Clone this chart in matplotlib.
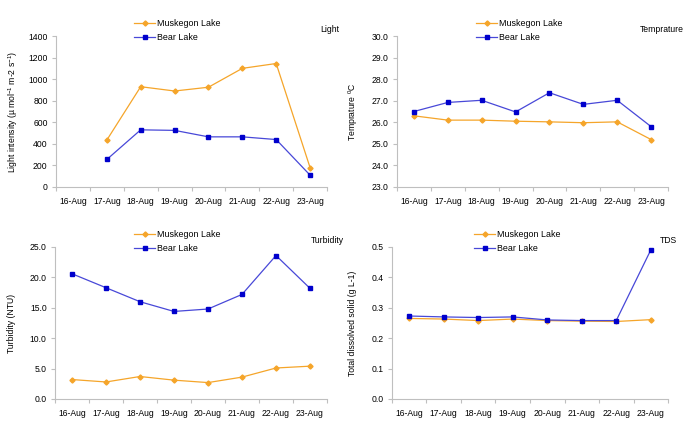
import matplotlib
matplotlib.use("Agg")
import matplotlib.pyplot as plt
import numpy as np

plt.rcParams['font.family'] = ['Liberation Sans', 'DejaVu Sans']
plt.rcParams['mathtext.fontset'] = 'custom'
plt.rcParams['mathtext.rm'] = 'Liberation Sans'
plt.rcParams['mathtext.it'] = 'Liberation Sans'

dates = ["16-Aug", "17-Aug", "18-Aug", "19-Aug", "20-Aug", "21-Aug", "22-Aug", "23-Aug"]

light_musk = [np.nan, 435, 930, 890, 925, 1100, 1145, 180]
light_bear = [np.nan, 255, 530, 525, 465, 465, 440, 110]

temp_musk = [26.3, 26.1, 26.1, 26.05, 26.02, 25.98, 26.02, 25.2]
temp_bear = [26.5, 26.92, 27.02, 26.48, 27.37, 26.83, 27.02, 25.8]

turb_musk = [3.2, 2.8, 3.7, 3.1, 2.7, 3.6, 5.1, 5.4]
turb_bear = [20.6, 18.3, 16.0, 14.4, 14.8, 17.2, 23.6, 18.2]

tds_musk = [0.265, 0.263, 0.258, 0.263, 0.258, 0.256, 0.255, 0.261]
tds_bear = [0.273, 0.270, 0.268, 0.270, 0.260, 0.258, 0.258, 0.490]

W, H = 685, 426
fig = plt.figure(figsize=(W / 100, H / 100), dpi=100)

ORANGE = '#F5A52A'
BLUE_LINE = '#4848D8'
BLUE_MK = '#0000CC'
GRAY = '#BFBFBF'
FS = 6.2


def make_ax(l, r, t, b):
    return fig.add_axes([l / W, 1 - b / H, (r - l) / W, (b - t) / H])


panels = [
    dict(box=(56, 327, 36, 187), m=light_musk, b=light_bear, ylim=(0, 1400),
         yticks=np.arange(0, 1401, 200), fmt='{:.0f}',
         ylabel='Light intensity (\u00b5 mol$^{-1}$ m-2 s$^{-1}$)', ylx=13,
         title='Light', tx=339, ty=29, leg=(134, 19)),
    dict(box=(397, 668, 36, 187), m=temp_musk, b=temp_bear, ylim=(23, 30),
         yticks=np.arange(23, 30.01, 1), fmt='{:.1f}',
         ylabel='Temprature $^{0}$C', ylx=353,
         title='Temprature', tx=684, ty=29, leg=(476, 19)),
    dict(box=(55, 327, 247, 399), m=turb_musk, b=turb_bear, ylim=(0, 25),
         yticks=np.arange(0, 25.01, 5), fmt='{:.1f}',
         ylabel='Turbidity (NTU)', ylx=12,
         title='Turbidity', tx=344, ty=241, leg=(134, 230)),
    dict(box=(392, 668, 247, 399), m=tds_musk, b=tds_bear, ylim=(0, 0.5),
         yticks=np.arange(0, 0.501, 0.1), fmt='{:.1f}',
         ylabel='Total dissolved solid (g L-1)', ylx=353,
         title='TDS', tx=677, ty=241, leg=(474, 230)),
]

x = np.arange(len(dates))
for p in panels:
    ax = make_ax(*p['box'])
    lm, = ax.plot(x, p['m'], color=ORANGE, lw=0.9, marker='D', ms=2.6,
                  mfc=ORANGE, mec=ORANGE, label='Muskegon Lake')
    lb, = ax.plot(x, p['b'], color=BLUE_LINE, lw=0.9, marker='s', ms=3.4,
                  mfc=BLUE_MK, mec=BLUE_MK, label='Bear Lake')
    ax.set_xlim(-0.5, len(dates) - 0.5)
    ax.set_ylim(*p['ylim'])
    ax.set_xticks(x)
    ax.set_xticklabels(dates, fontsize=FS)
    ax.set_xticks(np.arange(-0.5, len(dates)), minor=True)
    ax.tick_params(axis='x', which='major', length=0, pad=7)
    ax.tick_params(axis='x', which='minor', length=3, color=GRAY, width=0.8,
                   direction='out')
    ax.set_yticks(p['yticks'])
    ax.set_yticklabels([p['fmt'].format(v) for v in p['yticks']], fontsize=FS)
    ax.tick_params(axis='y', length=3, color=GRAY, width=0.8, pad=3)
    for s in ['top', 'right']:
        ax.spines[s].set_visible(False)
    for s in ['left', 'bottom']:
        ax.spines[s].set_color(GRAY)
        ax.spines[s].set_linewidth(0.8)
    fig.text(p['ylx'] / W, 1 - ((p['box'][2] + p['box'][3]) / 2) / H, p['ylabel'],
             rotation=90, ha='center', va='center', fontsize=FS)
    fig.text(p['tx'] / W, 1 - p['ty'] / H, p['title'], ha='right', va='center',
             fontsize=FS)
    lx, ly = p['leg']
    fig.legend(handles=[lm, lb], loc='upper left',
               bbox_to_anchor=(lx / W, 1 - ly / H), frameon=False,
               fontsize=FS + 0.2, handlelength=2.4, handletextpad=0.2,
               borderpad=0, borderaxespad=0, labelspacing=0.6)

fig.savefig('out.png', dpi=100)
